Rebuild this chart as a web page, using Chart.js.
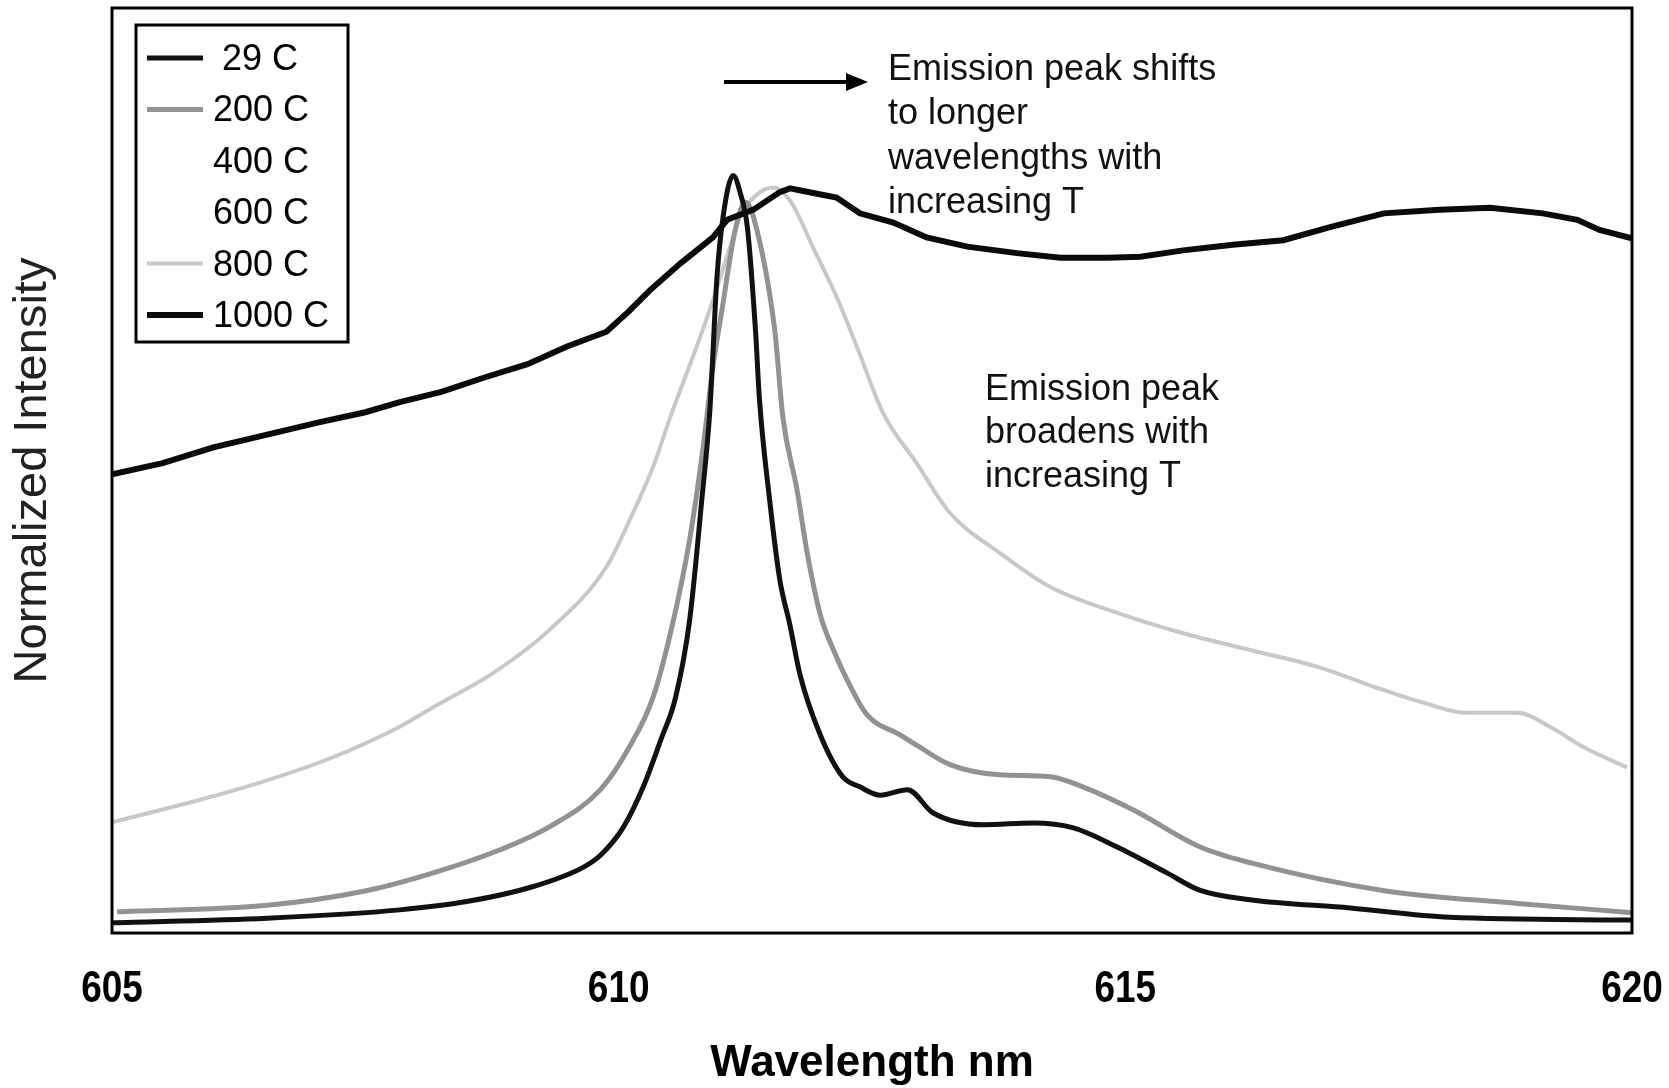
<!DOCTYPE html>
<html>
<head>
<meta charset="utf-8">
<title>Normalized emission spectra</title>
<script src="https://cdn.jsdelivr.net/npm/chart.js@4.4.1/dist/chart.umd.min.js"></script>
<style>
  html, body { margin: 0; padding: 0; background: #fff; }
  canvas { display: block; }
</style>
</head>
<body>
<canvas id="spectra" width="1669" height="1088"></canvas>
<script>
// spectra, wavelength in nm vs normalized intensity
const seriesLabels = ["29 C", "200 C", "400 C", "600 C", "800 C", "1000 C"];
const xTicks = [605, 610, 615, 620];

const wl29 = [605.0, 606.53, 607.84, 608.5, 609.15, 609.65, 609.82, 610.05, 610.25, 610.42, 610.56, 610.7, 610.82, 610.9, 610.97, 611.03, 611.13, 611.2, 611.27, 611.35, 611.39, 611.49, 611.59, 611.69, 611.79, 611.99, 612.21, 612.38, 612.58, 612.85, 613.1, 613.6, 614.09, 614.48, 614.92, 615.41, 615.74, 616.23, 617.22, 618.2, 620.0];
const int29 = [0.011, 0.016, 0.025, 0.034, 0.05, 0.071, 0.084, 0.115, 0.16, 0.21, 0.254, 0.338, 0.468, 0.565, 0.709, 0.774, 0.819, 0.8, 0.763, 0.652, 0.576, 0.468, 0.382, 0.333, 0.279, 0.214, 0.169, 0.158, 0.149, 0.155, 0.13, 0.117, 0.119, 0.114, 0.093, 0.065, 0.046, 0.036, 0.027, 0.017, 0.014];

const wl200 = [605.05, 606.53, 607.52, 608.17, 608.83, 609.32, 609.82, 610.1, 610.34, 610.54, 610.7, 610.83, 610.93, 611.02, 611.15, 611.25, 611.33, 611.54, 611.62, 611.76, 611.86, 611.99, 612.12, 612.28, 612.45, 612.78, 612.94, 613.27, 613.76, 614.26, 614.58, 615.08, 615.74, 616.23, 617.54, 618.87, 620.0];
const int200 = [0.023, 0.03, 0.046, 0.065, 0.09, 0.115, 0.155, 0.2, 0.255, 0.338, 0.425, 0.522, 0.612, 0.674, 0.76, 0.79, 0.774, 0.652, 0.558, 0.479, 0.411, 0.344, 0.306, 0.268, 0.236, 0.214, 0.203, 0.182, 0.171, 0.169, 0.158, 0.133, 0.093, 0.076, 0.046, 0.032, 0.022];

const wlMid = [605, 606.5, 608, 609, 609.8, 610.3, 610.7, 610.8, 610.93, 611.02, 611.1, 611.3, 611.5, 611.7, 612, 612.3, 612.7, 613.2, 614, 615, 616, 617, 618, 619, 620];
const int400 = [0.04, 0.05, 0.08, 0.12, 0.2, 0.29, 0.42, 0.5, 0.62, 0.69, 0.77, 0.79, 0.7, 0.56, 0.42, 0.33, 0.27, 0.24, 0.21, 0.17, 0.12, 0.09, 0.07, 0.05, 0.04];
const int600 = [0.06, 0.08, 0.12, 0.17, 0.25, 0.33, 0.396, 0.468, 0.612, 0.674, 0.76, 0.79, 0.74, 0.62, 0.5, 0.42, 0.36, 0.31, 0.27, 0.23, 0.19, 0.15, 0.12, 0.1, 0.08];

const wl800 = [605.01, 605.87, 606.53, 607.18, 607.84, 608.17, 608.76, 609.32, 609.88, 610.14, 610.34, 610.51, 610.77, 610.93, 611.1, 611.2, 611.35, 611.52, 611.69, 611.94, 612.15, 612.35, 612.61, 612.94, 613.27, 613.76, 614.26, 614.92, 615.57, 616.23, 616.89, 617.54, 617.94, 618.37, 618.87, 619.19, 619.52, 619.95];
const int800 = [0.12, 0.144, 0.165, 0.19, 0.223, 0.244, 0.281, 0.328, 0.396, 0.454, 0.504, 0.558, 0.634, 0.684, 0.742, 0.775, 0.797, 0.806, 0.792, 0.736, 0.688, 0.634, 0.562, 0.508, 0.454, 0.411, 0.374, 0.346, 0.324, 0.306, 0.288, 0.263, 0.249, 0.238, 0.238, 0.223, 0.201, 0.179];

const wl1000 = [605.0, 605.5, 606.0, 606.5, 607.04, 607.5, 607.84, 608.25, 608.66, 609.1, 609.49, 609.88, 610.1, 610.31, 610.61, 610.93, 611.07, 611.33, 611.59, 611.69, 611.92, 612.15, 612.38, 612.71, 613.04, 613.44, 613.93, 614.36, 614.82, 615.15, 615.57, 616.06, 616.56, 617.02, 617.55, 618.1, 618.6, 619.12, 619.46, 619.68, 620.0];
const int1000 = [0.496, 0.508, 0.525, 0.538, 0.552, 0.563, 0.574, 0.585, 0.6, 0.615, 0.634, 0.65, 0.672, 0.695, 0.724, 0.752, 0.771, 0.782, 0.801, 0.805, 0.8, 0.795, 0.778, 0.768, 0.752, 0.742, 0.735, 0.73, 0.73, 0.731, 0.738, 0.744, 0.749, 0.763, 0.778, 0.782, 0.784, 0.778, 0.771, 0.76, 0.751];

const lineColors = ["#111111", "#929292", "#ffffff", "#ffffff", "#c8c8c8", "#0a0a0a"];
const lineWidths = [5, 5, 2, 2, 4, 6];
const drawOrder = [1, 2, 5, 4, 3, 0];

function pts(xs, ys) {
  return xs.map((x, i) => ({ x: x, y: ys[i] }));
}

const seriesData = [
  pts(wl29, int29),
  pts(wl200, int200),
  pts(wlMid, int400),
  pts(wlMid, int600),
  pts(wl800, int800),
  pts(wl1000, int1000)
];

const textFont = "'Liberation Sans', Arial, sans-serif";

// frame, narrow tick numbers, legend box and the two notes
const decorations = {
  id: "decorations",
  beforeDraw(chart) {
    const c = chart.ctx;
    c.save();
    c.fillStyle = "#fff";
    c.fillRect(0, 0, chart.width, chart.height);
    c.restore();
  },
  afterDraw(chart) {
    const c = chart.ctx;
    const a = chart.chartArea;
    const xs = chart.scales.x;
    c.save();
    c.strokeStyle = "#000";
    c.lineWidth = 3;
    c.strokeRect(a.left, a.top, a.right - a.left, a.bottom - a.top);

    // tick numbers, condensed bold
    c.fillStyle = "#000";
    c.font = "bold 44px " + textFont;
    c.textAlign = "center";
    c.textBaseline = "middle";
    xTicks.forEach(v => {
      const px = xs.getPixelForValue(v);
      c.save();
      c.translate(px, a.bottom + 57);
      c.scale(0.84, 1);
      c.fillText(String(v), 0, 0);
      c.restore();
    });

    // legend
    c.fillStyle = "#fff";
    c.fillRect(136, 25, 212, 317);
    c.strokeRect(136, 25, 212, 317);
    c.font = "36px " + textFont;
    c.textBaseline = "middle";
    c.textAlign = "left";
    chart.data.datasets.forEach((ds, i) => {
      const y = 58 + i * 51.4;
      c.beginPath();
      c.strokeStyle = ds.borderColor;
      c.lineWidth = ds.borderWidth;
      c.moveTo(147, y);
      c.lineTo(203, y);
      c.stroke();
      c.fillStyle = "#000";
      c.fillText(ds.label, i === 0 ? 222 : 213, y + 2);
    });

    // arrow
    c.strokeStyle = "#000";
    c.fillStyle = "#000";
    c.lineWidth = 4;
    c.beginPath();
    c.moveTo(724, 82);
    c.lineTo(850, 82);
    c.stroke();
    c.beginPath();
    c.moveTo(868, 82);
    c.lineTo(846, 73);
    c.lineTo(846, 91);
    c.closePath();
    c.fill();

    c.font = "36px " + textFont;
    c.fillStyle = "#111";
    ["Emission peak shifts", "to longer", "wavelengths with", "increasing T"].forEach((t, i) => {
      c.fillText(t, 888, 70 + i * 44.3);
    });
    ["Emission peak", "broadens with", "increasing T"].forEach((t, i) => {
      c.fillText(t, 985, 390 + i * 43.5);
    });
    c.restore();
  }
};

const ctx = document.getElementById("spectra").getContext("2d");
const spectraChart = new Chart(ctx, {
  type: "line",
  data: {
    datasets: seriesLabels.map((label, i) => ({
      label: label,
      data: seriesData[i],
      borderColor: lineColors[i],
      borderWidth: lineWidths[i],
      pointRadius: 0,
      fill: false,
      order: drawOrder[i],
      tension: 0,
      cubicInterpolationMode: i === 5 ? "default" : "monotone"
    }))
  },
  options: {
    responsive: false,
    animation: false,
    devicePixelRatio: 1,
    layout: { padding: { top: 8, right: 37, left: 0, bottom: 0 } },
    plugins: {
      legend: { display: false },
      tooltip: { enabled: false }
    },
    scales: {
      x: {
        type: "linear",
        min: 605,
        max: 620,
        grid: { display: false, drawTicks: false },
        border: { display: false },
        afterBuildTicks: (scale) => { scale.ticks = xTicks.map(v => ({ value: v })); },
        afterFit: (scale) => { scale.height = 155; },
        ticks: { display: false },
        title: {
          display: true,
          text: "Wavelength nm",
          color: "#000",
          padding: { top: 0, bottom: 2 },
          font: { family: textFont, size: 44, weight: "bold", lineHeight: 1 }
        }
      },
      y: {
        type: "linear",
        min: 0,
        max: 1,
        grid: { display: false, drawTicks: false },
        border: { display: false },
        ticks: { display: false },
        afterFit: (scale) => { scale.width = 112; },
        title: {
          display: true,
          text: "Normalized Intensity",
          color: "#222",
          padding: { top: 5, bottom: 0 },
          font: { family: textFont, size: 47, weight: "normal", lineHeight: 1.2 }
        }
      }
    }
  },
  plugins: [decorations]
});
</script>
</body>
</html>
